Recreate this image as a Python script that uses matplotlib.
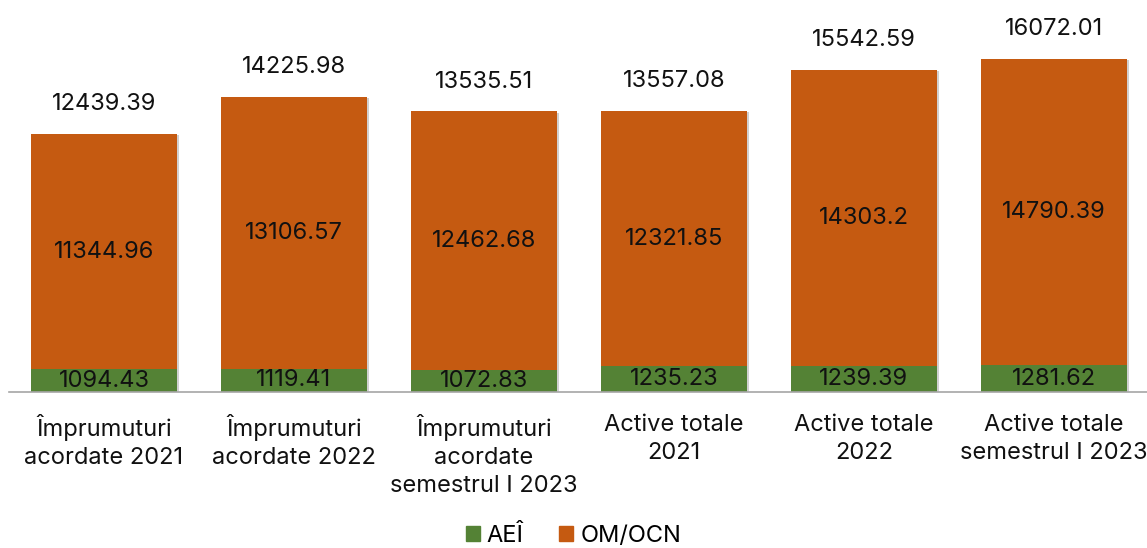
import matplotlib
matplotlib.use("Agg")
import matplotlib.pyplot as plt
import matplotlib.patheffects as pe
from matplotlib.patches import Patch

plt.rcParams['font.family'] = ['Inter', 'DejaVu Sans']

categories = ["Împrumuturi\nacordate 2021", "Împrumuturi\nacordate 2022",
              "Împrumuturi\nacordate\nsemestrul I 2023", "Active totale\n2021",
              "Active totale\n2022", "Active totale\nsemestrul I 2023"]
aei = [1094.43, 1119.41, 1072.83, 1235.23, 1239.39, 1281.62]
om_ocn = [11344.96, 13106.57, 12462.68, 12321.85, 14303.2, 14790.39]
totals = [12439.39, 14225.98, 13535.51, 13557.08, 15542.59, 16072.01]
total_labels = ["12439.39", "14225.98", "13535.51", "13557.08", "15542.59", "16072.01"]
aei_labels = ["1094.43", "1119.41", "1072.83", "1235.23", "1239.39", "1281.62"]
om_labels = ["11344.96", "13106.57", "12462.68", "12321.85", "14303.2", "14790.39"]

green = "#548235"
orange = "#C55A11"

fig = plt.figure(figsize=(11.47, 5.48), dpi=100)
ax = fig.add_axes([9/1147, 156/548, 1140/1147, 392/548])
x = list(range(len(categories)))
w = 0.77
shadow = [pe.SimplePatchShadow(offset=(1.5, -1.0), shadow_rgbFace='black', alpha=0.18)]
# shadow carrier behind the stacks
sb = ax.bar(x, totals, width=w, color='white', zorder=1)
for b in sb:
    b.set_path_effects(shadow + [pe.Normal()])
ax.bar(x, aei, width=w, color=green, zorder=2)
ax.bar(x, om_ocn, width=w, bottom=aei, color=orange, zorder=2)

fs = 17
for i in x:
    ax.text(i, aei[i] / 2, aei_labels[i], ha='center', va='center', fontsize=fs, color='#111111', zorder=3)
    ax.text(i, aei[i] + om_ocn[i] / 2, om_labels[i], ha='center', va='center', fontsize=fs, color='#111111', zorder=3)
    ax.text(i, totals[i] + 900, total_labels[i], ha='center', va='bottom', fontsize=fs, color='#111111', zorder=3)

ax.set_xlim(-0.5, 5.5)
ax.set_ylim(0, 18900)
ax.set_yticks([])
ax.set_xticks(x)
ax.set_xticklabels(categories, fontsize=fs, color='#111111', linespacing=1.36, va='top')
ax.tick_params(axis='x', length=0, pad=16)
for s in ['top', 'right', 'left']:
    ax.spines[s].set_visible(False)
ax.spines['bottom'].set_color('#A6A6A6')
ax.spines['bottom'].set_linewidth(1.2)
ax.spines['bottom'].set_zorder(4)

handles = [Patch(color=green, label='AEÎ'), Patch(color=orange, label='OM/OCN')]
fig.legend(handles=handles, loc='lower center', bbox_to_anchor=(0.5, -0.037), ncol=2, frameon=False,
           fontsize=fs, handlelength=0.6, handleheight=0.6, handletextpad=0.3, columnspacing=1.5)

fig.savefig("out.png", dpi=100)
